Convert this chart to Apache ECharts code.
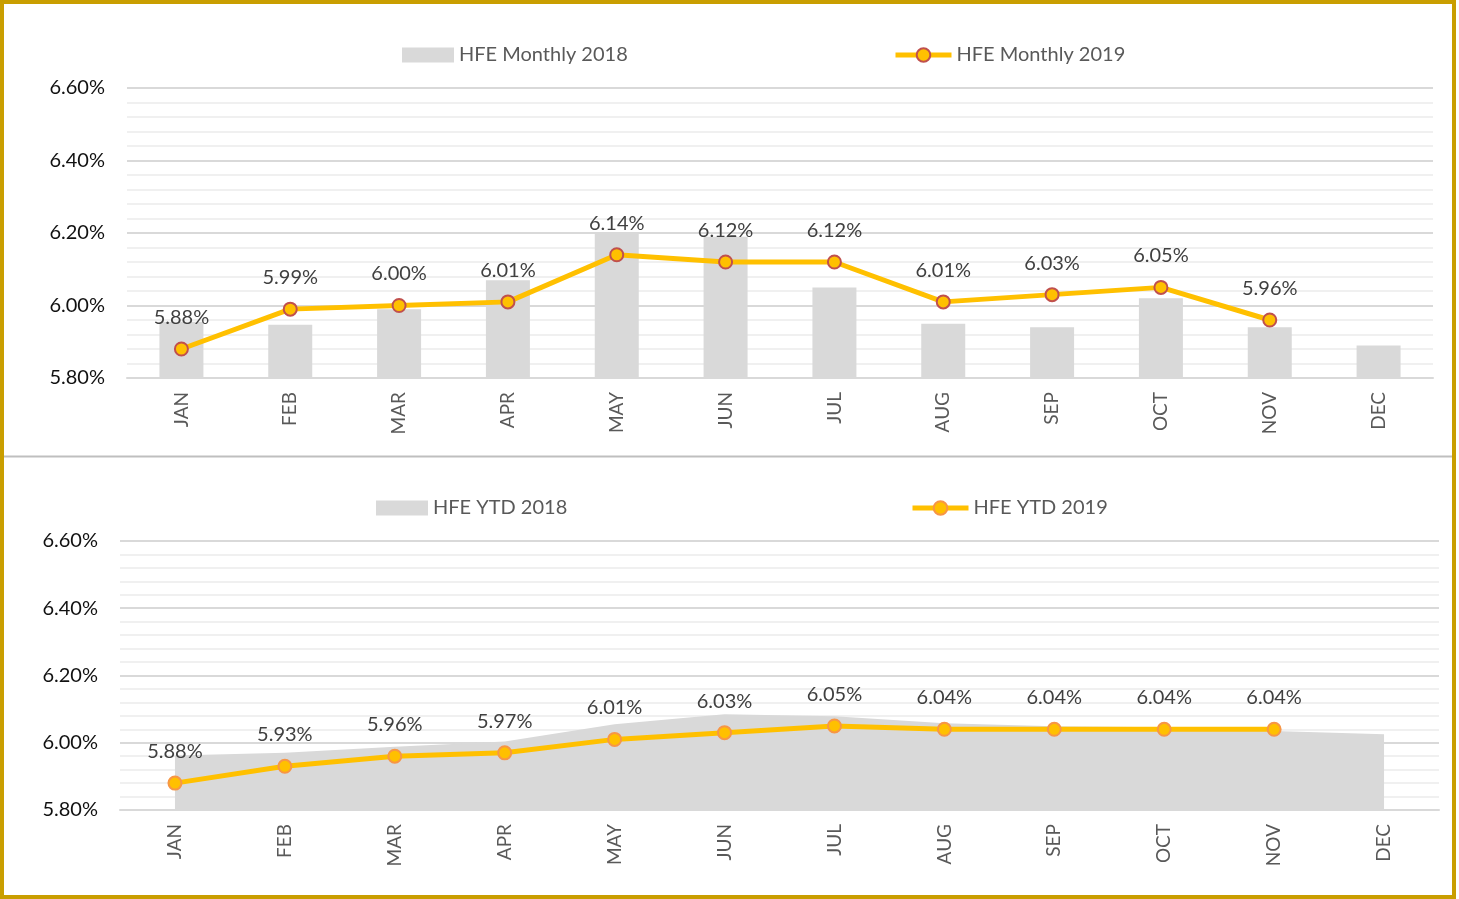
<!DOCTYPE html>
<html>
<head>
<meta charset="utf-8">
<script src="https://cdn.jsdelivr.net/npm/echarts@6/dist/echarts.min.js"></script>
<style>
  html, body { margin: 0; padding: 0; background: #fff; }
  #chart { width: 1459px; height: 899px; }
</style>
</head>
<body>
<div id="chart"></div>
<script>
const months = ['JAN', 'FEB', 'MAR', 'APR', 'MAY', 'JUN', 'JUL', 'AUG', 'SEP', 'OCT', 'NOV', 'DEC']

// monthly values, %
const monthly2018 = [5.955, 5.947, 5.99, 6.07, 6.20, 6.19, 6.05, 5.95, 5.94, 6.02, 5.94, 5.89]
const monthly2019 = [5.88, 5.99, 6.00, 6.01, 6.14, 6.12, 6.12, 6.01, 6.03, 6.05, 5.96]

// year to date, %
const ytd2018 = [5.962, 5.97, 5.988, 6.004, 6.055, 6.085, 6.079, 6.058, 6.049, 6.046, 6.035, 6.025]
const ytd2019 = [5.88, 5.93, 5.96, 5.97, 6.01, 6.03, 6.05, 6.04, 6.04, 6.04, 6.04]

const font = 'Lato, "Open Sans", sans-serif'
const pct = v => v.toFixed(2) + '%'

function yAxis(gridIndex) {
  return {
    type: 'value',
    gridIndex,
    min: 5.8,
    max: 6.6,
    interval: 0.2,
    axisLine: { show: false },
    axisTick: { show: false },
    axisLabel: {
      formatter: v => pct(v),
      fontFamily: font,
      fontSize: 20,
      color: '#111',
      margin: 22,
    },
    splitLine: { lineStyle: { color: '#d9d9d9', width: 2 } },
    minorTick: { show: false, splitNumber: 5 },
    minorSplitLine: { show: true, lineStyle: { color: '#f0f0f0', width: 2 } },
  }
}

function xAxis(gridIndex) {
  return {
    type: 'category',
    gridIndex,
    data: months,
    axisLine: { lineStyle: { color: '#d9d9d9', width: 2 } },
    axisTick: { show: false },
    axisLabel: {
      rotate: 90,
      fontFamily: font,
      fontSize: 19,
      color: '#595959',
      margin: 14,
    },
  }
}

const legendText = { fontFamily: font, fontSize: 20, color: '#595959' }

echarts.init(document.getElementById('chart')).setOption({
  animation: false,
  backgroundColor: '#fff',
  graphic: [
    {
      type: 'rect',
      shape: { x: 2, y: 2, width: 1452, height: 895 },
      style: { fill: 'none', stroke: '#c99e00', lineWidth: 4 },
      z: 100,
    },
    {
      type: 'line',
      shape: { x1: 4, y1: 456.5, x2: 1452, y2: 456.5 },
      style: { stroke: '#bfbfbf', lineWidth: 2 },
    },
  ],
  legend: [
    {
      data: [{ name: 'HFE Monthly 2018', icon: 'rect' }],
      left: 402, top: 45, padding: 0, itemWidth: 52, itemHeight: 15, itemGap: 5,
      textStyle: legendText,
    },
    {
      data: ['HFE Monthly 2019'],
      left: 893, top: 45, padding: 0, itemWidth: 56, itemHeight: 17,
      lineStyle: { width: 5 },
      textStyle: legendText,
    },
    {
      data: [{ name: 'HFE YTD 2018', icon: 'rect' }],
      left: 376, top: 498, padding: 0, itemWidth: 52, itemHeight: 15,
      textStyle: legendText,
    },
    {
      data: ['HFE YTD 2019'],
      left: 910, top: 498, padding: 0, itemWidth: 56, itemHeight: 17,
      lineStyle: { width: 5 },
      textStyle: legendText,
    },
  ],
  grid: [
    { left: 127, right: 26, top: 88, height: 290 },
    { left: 120, right: 20, top: 541, height: 269 },
  ],
  xAxis: [xAxis(0), xAxis(1)],
  yAxis: [yAxis(0), yAxis(1)],
  series: [
    {
      name: 'HFE Monthly 2018',
      type: 'bar',
      xAxisIndex: 0,
      yAxisIndex: 0,
      barWidth: 44,
      itemStyle: { color: '#d9d9d9' },
      data: monthly2018,
      z: 1,
    },
    {
      name: 'HFE Monthly 2019',
      type: 'line',
      xAxisIndex: 0,
      yAxisIndex: 0,
      data: monthly2019,
      symbol: 'circle',
      symbolSize: 13,
      lineStyle: { color: '#ffc000', width: 5 },
      itemStyle: { color: '#ffc000', borderColor: '#c0504d', borderWidth: 2 },
      label: {
        show: true,
        position: 'top',
        distance: 14,
        formatter: p => pct(p.value),
        fontFamily: font,
        fontSize: 20,
        color: '#404040',
      },
      z: 3,
    },
    {
      name: 'HFE YTD 2018',
      type: 'line',
      xAxisIndex: 1,
      yAxisIndex: 1,
      data: ytd2018,
      symbol: 'none',
      itemStyle: { color: '#d9d9d9' },
      lineStyle: { width: 0 },
      areaStyle: { color: '#d9d9d9', opacity: 1, origin: 'start' },
      z: 1,
    },
    {
      name: 'HFE YTD 2019',
      type: 'line',
      xAxisIndex: 1,
      yAxisIndex: 1,
      data: ytd2019,
      symbol: 'circle',
      symbolSize: 13,
      lineStyle: { color: '#ffc000', width: 5 },
      itemStyle: { color: '#ffc000', borderColor: '#f79646', borderWidth: 2 },
      label: {
        show: true,
        position: 'top',
        distance: 14,
        formatter: p => pct(p.value),
        fontFamily: font,
        fontSize: 20,
        color: '#404040',
      },
      z: 3,
    },
  ],
})
</script>
</body>
</html>
